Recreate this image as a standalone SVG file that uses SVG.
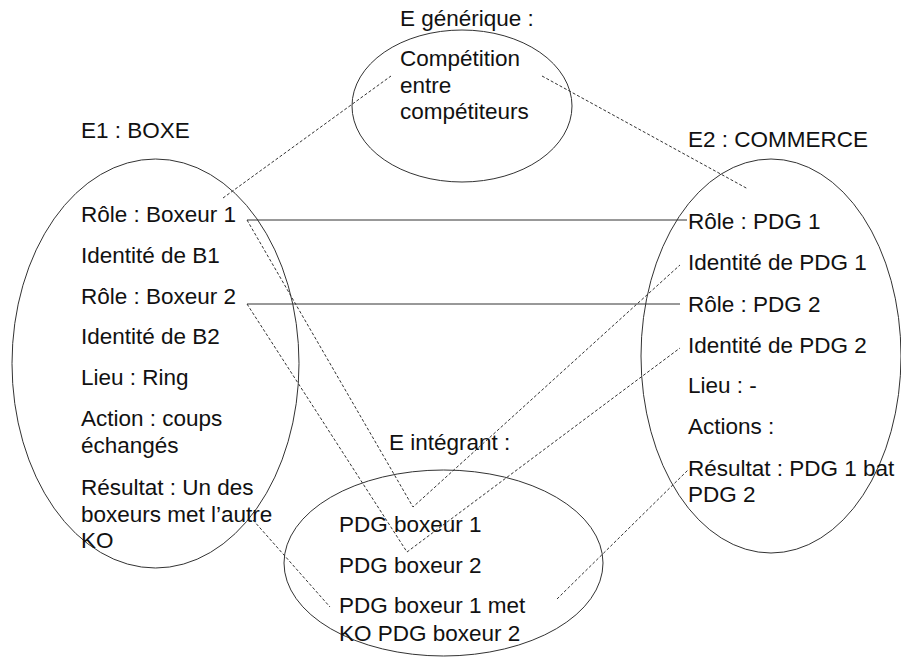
<svg xmlns="http://www.w3.org/2000/svg" width="901" height="657" viewBox="0 0 901 657">
<style>
.e{fill:none;stroke:#333;stroke-width:1}
.t{font-family:"Liberation Sans",Arial,sans-serif;font-size:22.5px;fill:#111}
.s{stroke:#333;stroke-width:1;fill:none}
.d{stroke:#333;stroke-width:1;fill:none;stroke-dasharray:3 2}
</style>
<rect width="901" height="657" fill="#fff"/>
<g id="generique">
<ellipse class="e" cx="462" cy="106" rx="110" ry="76"/>
<text class="t" x="400" y="26">E générique :</text>
<text class="t" x="400" y="66">Compétition</text>
<text class="t" x="400" y="93">entre</text>
<text class="t" x="400" y="119">compétiteurs</text>
</g>
<g id="boxe">
<ellipse class="e" cx="155.5" cy="363.5" rx="143.5" ry="204.5"/>
<text class="t" x="81" y="138">E1 : BOXE</text>
<text class="t" x="81" y="222">Rôle : Boxeur 1</text>
<text class="t" x="81" y="263">Identité de B1</text>
<text class="t" x="81" y="304">Rôle : Boxeur 2</text>
<text class="t" x="81" y="344">Identité de B2</text>
<text class="t" x="81" y="385">Lieu : Ring</text>
<text class="t" x="81" y="426">Action : coups</text>
<text class="t" x="81" y="453">échangés</text>
<text class="t" x="81" y="495">Résultat : Un des</text>
<text class="t" x="81" y="522">boxeurs met l’autre</text>
<text class="t" x="81" y="548">KO</text>
</g>
<g id="commerce">
<ellipse class="e" cx="771" cy="356" rx="130" ry="197"/>
<text class="t" x="688" y="147">E2 : COMMERCE</text>
<text class="t" x="688" y="229">Rôle : PDG 1</text>
<text class="t" x="688" y="270">Identité de PDG 1</text>
<text class="t" x="688" y="312">Rôle : PDG 2</text>
<text class="t" x="688" y="353">Identité de PDG 2</text>
<text class="t" x="688" y="393">Lieu : -</text>
<text class="t" x="688" y="434">Actions :</text>
<text class="t" x="688" y="476">Résultat : PDG 1 bat</text>
<text class="t" x="688" y="502">PDG 2</text>
</g>
<g id="integrant">
<ellipse class="e" cx="443.5" cy="563" rx="159.5" ry="93"/>
<text class="t" x="389" y="450">E intégrant :</text>
<text class="t" x="339" y="532">PDG boxeur 1</text>
<text class="t" x="339" y="573">PDG boxeur 2</text>
<text class="t" x="339" y="613">PDG boxeur 1 met</text>
<text class="t" x="339" y="641">KO PDG boxeur 2</text>
</g>
<g id="connectors">
<line class="d" x1="223" y1="198" x2="391" y2="76"/>
<line class="d" x1="542" y1="76" x2="748" y2="189"/>
<line class="s" x1="247" y1="220" x2="687" y2="220"/>
<line class="s" x1="247" y1="304" x2="680" y2="304"/>
<polyline class="d" points="247,220 413,507 680,265"/>
<polyline class="d" points="247,304 407,552 680,348"/>
<line class="d" x1="253" y1="520" x2="330" y2="607"/>
<line class="d" x1="557" y1="599" x2="688" y2="470"/>
</g>
</svg>
